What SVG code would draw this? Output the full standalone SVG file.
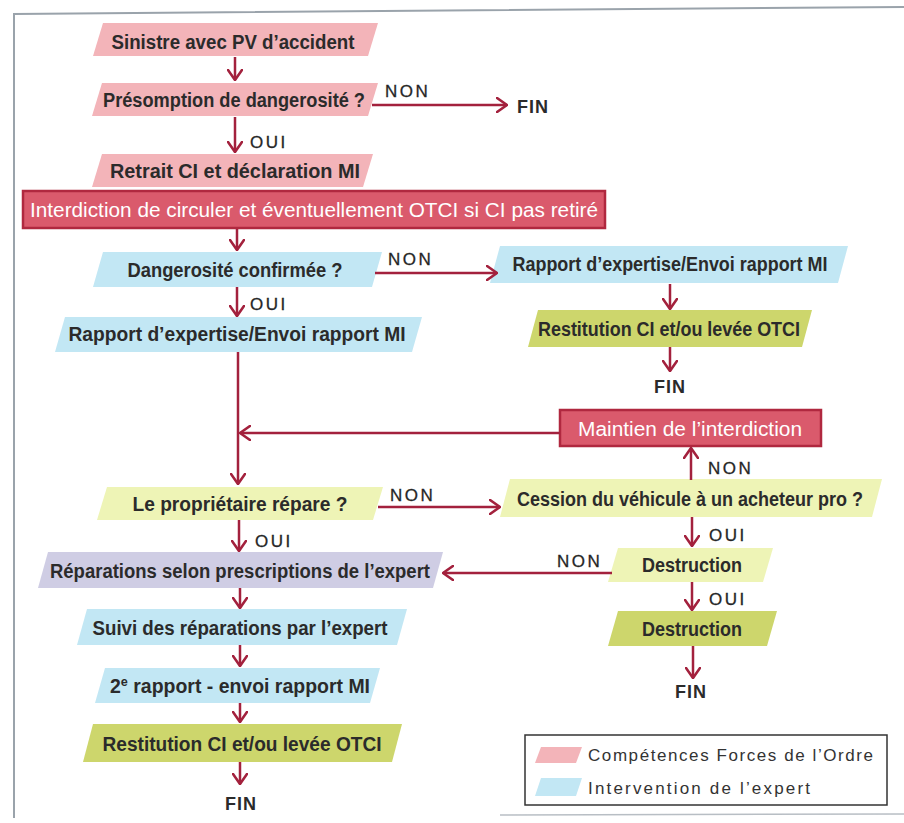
<svg xmlns="http://www.w3.org/2000/svg" width="904" height="823" viewBox="0 0 904 823">
<defs>
<marker id="chev" viewBox="0 0 12 16" refX="11" refY="8" markerWidth="12" markerHeight="16" markerUnits="userSpaceOnUse" orient="auto">
<path d="M1,1 L11,8 L1,15" fill="none" stroke="#a3213d" stroke-width="2.6" stroke-linecap="round" stroke-linejoin="round"/>
</marker>
</defs>
<style>
.pink{fill:#f3b4b9}
.blue{fill:#c2e7f4}
.lyel{fill:#eef4b6}
.gyel{fill:#cdd66c}
.lav{fill:#cfcde4}
.red{fill:#da5a6c;stroke:#b0283f;stroke-width:2.5}
.t{font-family:"Liberation Sans",Arial,sans-serif;font-size:20px;font-weight:bold;fill:#2b2b2b;text-anchor:middle}
.tw{font-family:"Liberation Sans",Arial,sans-serif;font-size:20px;fill:#ffffff;text-anchor:middle}
.lbl{font-family:"Liberation Sans",Arial,sans-serif;font-size:17px;fill:#262626;letter-spacing:2.5px;stroke:#262626;stroke-width:0.3}
.fin{font-family:"Liberation Sans",Arial,sans-serif;font-size:18px;font-weight:bold;fill:#2b2b2b;letter-spacing:1px}
.leg{font-family:"Liberation Sans",Arial,sans-serif;font-size:17px;fill:#333333}
.c{fill:none;stroke:#a3213d;stroke-width:2.5}
</style>
<rect width="904" height="823" fill="#ffffff"/>
<g id="frame" fill="none" stroke="#9aa3ab" stroke-width="2">
<polyline points="904,7 14,14 14,818"/>
<line x1="500" y1="815" x2="904" y2="814" stroke-width="1.5" opacity="0.7"/>
</g>

<g id="n1"><polygon class="pink" points="103,23 378,23 368,56 93,56"/><text class="t" x="233" y="49" textLength="243" lengthAdjust="spacingAndGlyphs">Sinistre avec PV d’accident</text></g>
<g id="n2"><polygon class="pink" points="102,83 378,83 368,116 92,116"/><text class="t" x="234" y="107" textLength="262" lengthAdjust="spacingAndGlyphs">Présomption de dangerosité ?</text></g>
<g id="fin1"><text class="fin" x="517" y="113">FIN</text></g>
<g id="n3"><polygon class="pink" points="102,154 373,154 363,187 92,187"/><text class="t" x="235" y="178" textLength="250" lengthAdjust="spacingAndGlyphs">Retrait CI et déclaration MI</text></g>
<g id="n4"><rect class="red" x="23" y="191" width="582" height="37"/><text class="tw" x="314" y="217" textLength="568" lengthAdjust="spacingAndGlyphs">Interdiction de circuler et éventuellement OTCI si CI pas retiré</text></g>
<g id="n5"><polygon class="blue" points="103,252 382,252 372,287 93,287"/><text class="t" x="235" y="277" textLength="215" lengthAdjust="spacingAndGlyphs">Dangerosité confirmée ?</text></g>
<g id="n6"><polygon class="blue" points="500,246 848,246 838,283 490,283"/><text class="t" x="670" y="271" textLength="315" lengthAdjust="spacingAndGlyphs">Rapport d’expertise/Envoi rapport MI</text></g>
<g id="n7"><polygon class="gyel" points="538,310 812,310 802,347 528,347"/><text class="t" x="669" y="336" textLength="262" lengthAdjust="spacingAndGlyphs">Restitution CI et/ou levée OTCI</text></g>
<g id="fin2"><text class="fin" x="670" y="393" text-anchor="middle">FIN</text></g>
<g id="n8"><polygon class="blue" points="65,317 422,317 412,352 55,352"/><text class="t" x="237" y="341" textLength="337" lengthAdjust="spacingAndGlyphs">Rapport d’expertise/Envoi rapport MI</text></g>
<g id="n9"><rect class="red" x="560" y="410" width="261" height="36"/><text class="tw" x="690" y="436" textLength="224" lengthAdjust="spacingAndGlyphs">Maintien de l’interdiction</text></g>
<g id="n10"><polygon class="lyel" points="107,487 383,487 373,520 97,520"/><text class="t" x="240" y="511" textLength="215" lengthAdjust="spacingAndGlyphs">Le propriétaire répare ?</text></g>
<g id="n11"><polygon class="lyel" points="510,479 882,479 872,517 500,517"/><text class="t" x="690" y="506" textLength="346" lengthAdjust="spacingAndGlyphs">Cession du véhicule à un acheteur pro ?</text></g>
<g id="n12"><polygon class="lyel" points="618,548 773,548 763,582 608,582"/><text class="t" x="692" y="572" textLength="100" lengthAdjust="spacingAndGlyphs">Destruction</text></g>
<g id="n13"><polygon class="gyel" points="618,611 777,611 767,646 608,646"/><text class="t" x="692" y="636" textLength="100" lengthAdjust="spacingAndGlyphs">Destruction</text></g>
<g id="fin3"><text class="fin" x="691" y="698" text-anchor="middle">FIN</text></g>
<g id="n14"><polygon class="lav" points="48,552 443,552 433,588 38,588"/><text class="t" x="240" y="578" textLength="380" lengthAdjust="spacingAndGlyphs">Réparations selon prescriptions de l’expert</text></g>
<g id="n15"><polygon class="blue" points="87,609 407,609 397,645 77,645"/><text class="t" x="240" y="635" textLength="295" lengthAdjust="spacingAndGlyphs">Suivi des réparations par l’expert</text></g>
<g id="n16"><polygon class="blue" points="105,668 380,668 370,703 95,703"/><text class="t" x="240" y="693" textLength="260" lengthAdjust="spacingAndGlyphs">2<tspan font-size="13" dy="-7">e</tspan><tspan dy="7"> rapport - envoi rapport MI</tspan></text></g>
<g id="n17"><polygon class="gyel" points="93,724 402,724 392,762 83,762"/><text class="t" x="242" y="751" textLength="279" lengthAdjust="spacingAndGlyphs">Restitution CI et/ou levée OTCI</text></g>
<g id="fin4"><text class="fin" x="241" y="810" text-anchor="middle">FIN</text></g>

<g id="connectors">
<path class="c" d="M235,57 V80" marker-end="url(#chev)"/>
<path class="c" d="M235,117 V152" marker-end="url(#chev)"/>
<path class="c" d="M372,105 H507" marker-end="url(#chev)"/>
<path class="c" d="M237,229 V250" marker-end="url(#chev)"/>
<path class="c" d="M237,287 V316" marker-end="url(#chev)"/>
<path class="c" d="M375,273 H497" marker-end="url(#chev)"/>
<path class="c" d="M670,284 V309" marker-end="url(#chev)"/>
<path class="c" d="M670,347 V371" marker-end="url(#chev)"/>
<path class="c" d="M238,352 V484" marker-end="url(#chev)"/>
<path class="c" d="M560,433 H240" marker-end="url(#chev)"/>
<path class="c" d="M691,480 V448" marker-end="url(#chev)"/>
<path class="c" d="M378,507 H500" marker-end="url(#chev)"/>
<path class="c" d="M692,517 V546" marker-end="url(#chev)"/>
<path class="c" d="M612,573 H443" marker-end="url(#chev)"/>
<path class="c" d="M692,582 V610" marker-end="url(#chev)"/>
<path class="c" d="M693,646 V678" marker-end="url(#chev)"/>
<path class="c" d="M239,520 V551" marker-end="url(#chev)"/>
<path class="c" d="M240,588 V608" marker-end="url(#chev)"/>
<path class="c" d="M240,645 V666" marker-end="url(#chev)"/>
<path class="c" d="M240,703 V722" marker-end="url(#chev)"/>
<path class="c" d="M240,762 V784" marker-end="url(#chev)"/>
</g>
<g id="labels">
<text class="lbl" x="385" y="97">NON</text>
<text class="lbl" x="250" y="148">OUI</text>
<text class="lbl" x="388" y="265">NON</text>
<text class="lbl" x="250" y="310">OUI</text>
<text class="lbl" x="708" y="474">NON</text>
<text class="lbl" x="390" y="501">NON</text>
<text class="lbl" x="255" y="547">OUI</text>
<text class="lbl" x="709" y="541">OUI</text>
<text class="lbl" x="557" y="567">NON</text>
<text class="lbl" x="709" y="605">OUI</text>
</g>
<g id="legend">
<rect x="525" y="735" width="362" height="70" fill="#ffffff" stroke="#333333" stroke-width="1.5"/>
<polygon class="pink" points="541,747 582,747 576,763 535,763"/>
<polygon class="blue" points="541,778 582,778 576,796 535,796"/>
<text class="leg" x="588" y="761" textLength="285">Compétences Forces de l’Ordre</text>
<text class="leg" x="588" y="794" textLength="222">Intervention de l’expert</text>
</g>
</svg>
